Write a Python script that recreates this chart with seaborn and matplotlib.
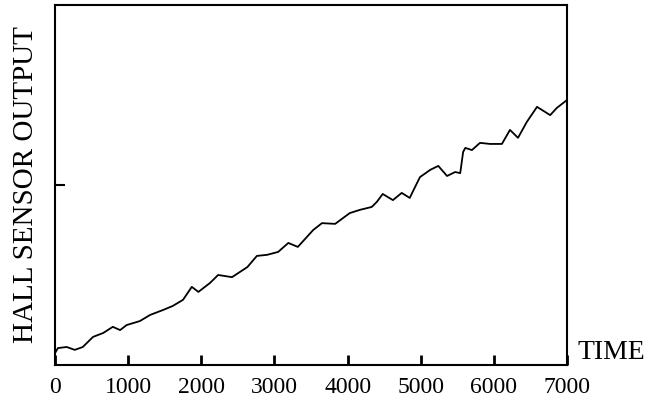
import pandas as pd
import seaborn as sns
import matplotlib.pyplot as plt

# Data (time vs. normalised sensor output)
time = [0, 40, 160, 270, 380, 520, 660, 790, 890, 980,
        1160, 1300, 1480, 1610, 1750, 1870, 1960, 2120, 2230, 2420,
        2630, 2760, 2900, 3050, 3190, 3320, 3530, 3650, 3830, 4030,
        4170, 4330, 4400, 4480, 4620, 4740, 4850, 4890, 4990, 5130,
        5240, 5360, 5470, 5540, 5580, 5610, 5700, 5810, 5950, 6110,
        6220, 6330, 6450, 6590, 6770, 6860, 7000]
output = [0.033, 0.047, 0.050, 0.042, 0.050, 0.078, 0.089, 0.106, 0.097, 0.111,
          0.122, 0.139, 0.153, 0.164, 0.181, 0.217, 0.203, 0.228, 0.250, 0.244,
          0.272, 0.303, 0.306, 0.314, 0.339, 0.328, 0.375, 0.394, 0.392, 0.422,
          0.431, 0.439, 0.453, 0.475, 0.458, 0.478, 0.464, 0.481, 0.522, 0.542,
          0.553, 0.525, 0.536, 0.533, 0.592, 0.603, 0.597, 0.617, 0.614, 0.614,
          0.653, 0.631, 0.675, 0.717, 0.694, 0.714, 0.736]
xticks = [0, 1000, 2000, 3000, 4000, 5000, 6000, 7000]

df = pd.DataFrame({'time': time, 'output': output})

sns.set_style('ticks')
plt.rcParams['font.family'] = ['Liberation Serif', 'DejaVu Serif']

fig = plt.figure(figsize=(6.54, 4.15), dpi=100)
ax = fig.add_axes([0.0841, 0.1205, 0.7829, 0.8675])

sns.lineplot(data=df, x='time', y='output', color='black', linewidth=1.3, ax=ax)

ax.set_xlim(0, 7000)
ax.set_ylim(0, 1)
ax.set_xticks(xticks)
ax.set_yticks([0.5])
ax.set_yticklabels([''])
# same call that showed the ticks in the stripped-down test
ax.tick_params(axis='x', bottom=True, direction='in', length=7, width=2, color='black')
ax.tick_params(axis='y', left=True, direction='in', length=7, width=1.5, color='black')
for lab in ax.get_xticklabels():
    lab.set_fontsize(17)
    lab.set_color('black')
ax.xaxis.set_tick_params(pad=9)

for s in ax.spines.values():
    s.set_color('black')
    s.set_linewidth(1.5)

ax.set_xlabel('')
ax.set_ylabel('HALL SENSOR OUTPUT', fontsize=21, labelpad=8, color='black')
ax.text(1.02, 0.0, 'TIME', transform=ax.transAxes, fontsize=20,
        ha='left', va='bottom', color='black')

fig.savefig('out.png', dpi=100)
